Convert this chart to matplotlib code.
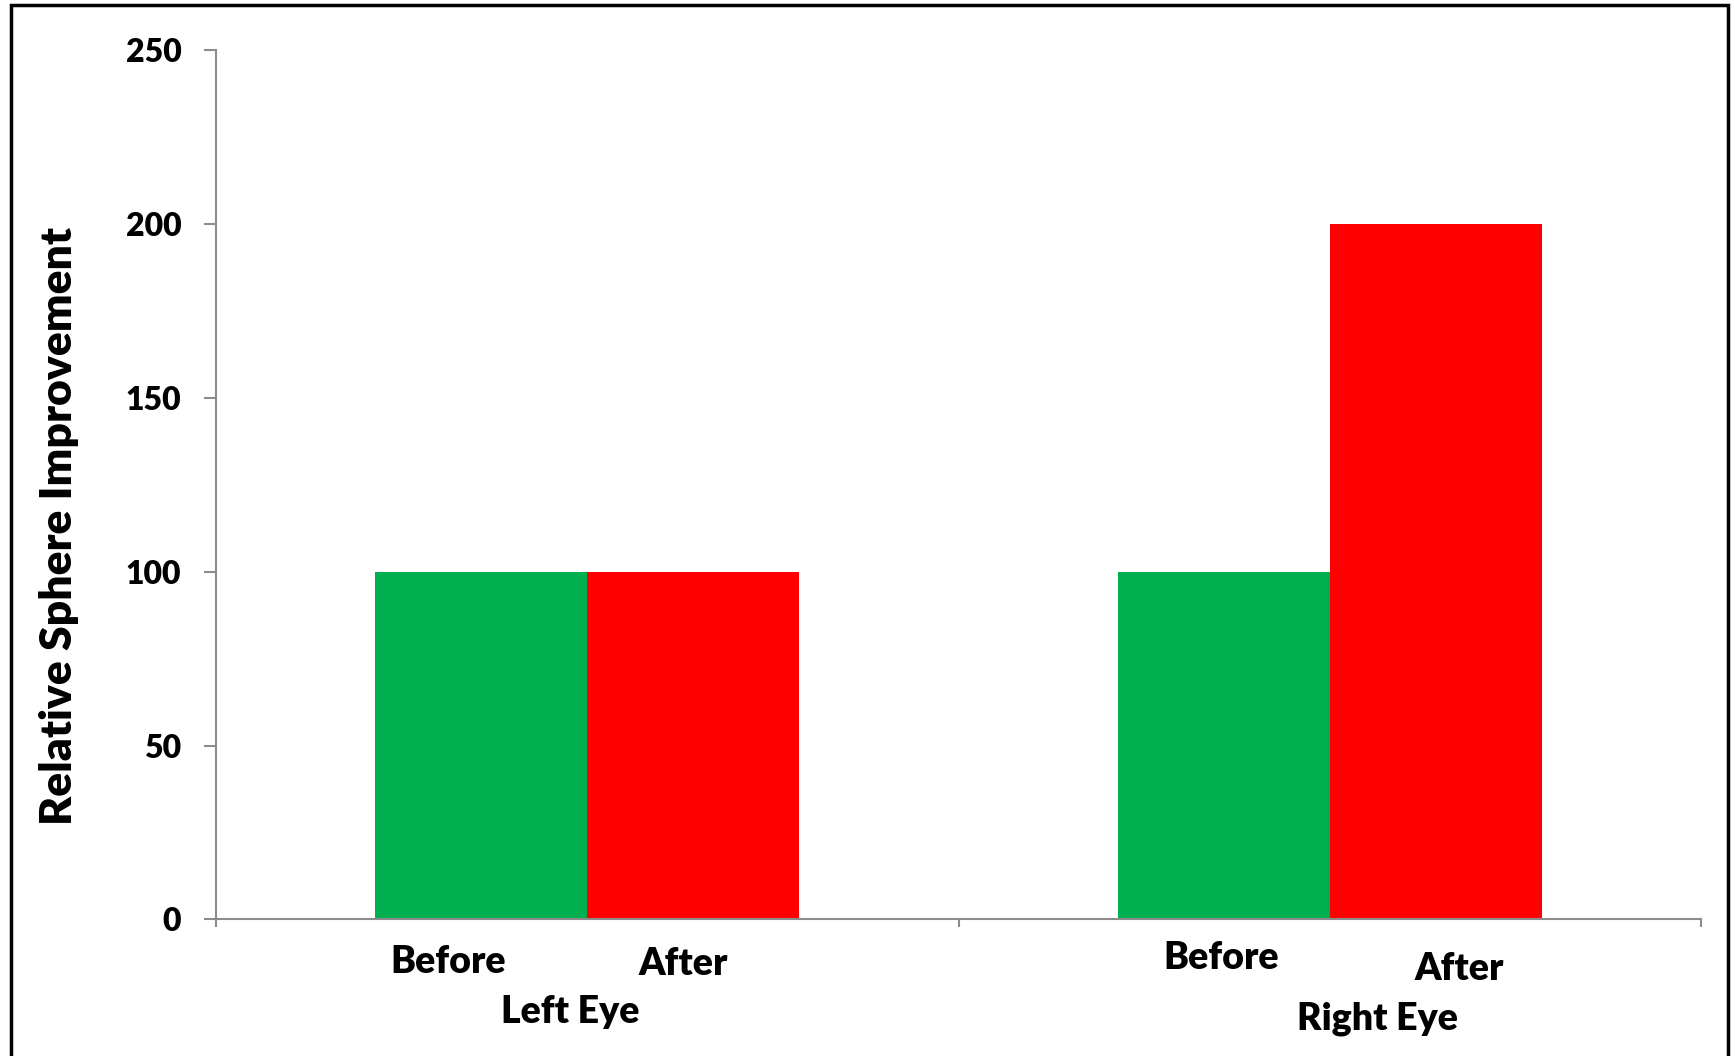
import matplotlib.pyplot as plt
from matplotlib.patches import Rectangle
from matplotlib.transforms import blended_transform_factory

groups = ["Left Eye", "Right Eye"]
series = ["Before", "After"]
before = [100, 100]
after = [100, 200]
y_ticks = [0, 50, 100, 150, 200, 250]

colors = ["#00B050", "#FF0000"]
axis_color = "#8C8C8C"

plt.rcParams["font.family"] = ["Lato", "DejaVu Sans"]
plt.rcParams["font.weight"] = "heavy"

fig = plt.figure(figsize=(17.35, 10.56), dpi=100)
ax = fig.add_axes([0.1245, 0.1293, 0.8559, 0.8234])

width = 1 / 3.5
x = list(range(len(groups)))
for i, (vals, color) in enumerate(zip([before, after], colors)):
    pos = [xi + (i - 0.5) * width for xi in x]
    ax.bar(pos, vals, width=width, color=color, linewidth=0)

ax.set_xlim(-0.5, len(groups) - 0.5)
ax.set_ylim(0, 250)
ax.set_yticks(y_ticks)
ax.set_yticklabels([str(v) for v in y_ticks], fontsize=23, fontweight="heavy")
ax.set_xticks([-0.5, 0.5, 1.5])
ax.set_xticklabels([])

for side in ["top", "right"]:
    ax.spines[side].set_visible(False)
for side in ["left", "bottom"]:
    ax.spines[side].set_color(axis_color)
    ax.spines[side].set_linewidth(1.5)
ax.tick_params(axis="y", direction="out", length=9, width=1.5, color=axis_color, pad=16)
ax.tick_params(axis="x", direction="out", length=6, width=1.5, color=axis_color)

ax.set_ylabel("Relative Sphere Improvement", fontsize=32, fontweight="heavy")
ax.yaxis.set_label_coords(-0.092, 0.453)

# category labels placed like the original text boxes (offsets from group centre, pixel y)
trans = blended_transform_factory(ax.transData, fig.transFigure)
label_dx = {"Before": [-0.1875, -0.146], "After": [0.1286, 0.1747]}
label_y = {"Before": [961.6, 958.2], "After": [963.8, 969.3]}
group_dx = [-0.0235, 0.0644]
group_y = [1012.4, 1019.0]
H = 1056
for gi, g in enumerate(groups):
    for s in series:
        ax.text(gi + label_dx[s][gi], 1 - label_y[s][gi] / H, s, transform=trans,
                ha="center", va="center", fontsize=27, fontweight="heavy")
    ax.text(gi + group_dx[gi], 1 - group_y[gi] / H, g, transform=trans,
            ha="center", va="center", fontsize=27, fontweight="heavy")

# chart border
fig.patches.append(Rectangle((11 / 1735, -0.05), (1728 - 11) / 1735, 1.05 - 5 / H,
                             transform=fig.transFigure, fill=False,
                             edgecolor="black", linewidth=2.5))

fig.savefig("out.png", dpi=100)
